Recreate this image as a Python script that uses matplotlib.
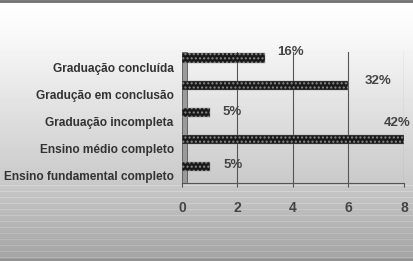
import numpy as np
import matplotlib.pyplot as plt
from matplotlib.patches import Rectangle

categories = [
    "Graduação concluída",
    "Gradução em conclusão",
    "Graduação incompleta",
    "Ensino médio completo",
    "Ensino fundamental completo",
]
counts = [3, 6, 1, 8, 1]
percent_labels = ["16%", "32%", "5%", "42%", "5%"]
x_ticks = [0, 2, 4, 6, 8]

plt.rcParams["font.family"] = ["Liberation Sans", "DejaVu Sans"]

fig = plt.figure(figsize=(4.14, 2.61), dpi=100)

# background gradient: white on top, grey towards the bottom
bg = fig.add_axes([0, 0, 1, 1], zorder=0)
rows = np.linspace(0, 1, 261)
shade = np.interp(rows, [0, 0.15, 0.7, 1.0], [1.0, 0.97, 0.79, 0.64])
for r in range(185, 261, 6):
    shade[r] = min(shade[r] + 0.05, 1)
bg.imshow(np.repeat(shade[:, None], 2, axis=1), cmap="gray", vmin=0, vmax=1,
          aspect="auto", extent=[0, 1, 0, 1])
bg.axhline(0.996, color="#707070", lw=2)
bg.axhline(0.004, color="#909090", lw=1.5)
bg.set_xlim(0, 1)
bg.set_ylim(0, 1)
bg.axis("off")

ax = fig.add_axes([0.4396, 0.299, 0.536, 0.517], zorder=1)
ax.patch.set_alpha(0)

y = np.arange(len(categories))
ax.barh(y, counts, height=0.34, color="#181818", edgecolor="#8a8a8a",
        hatch="....", linewidth=0.3, zorder=3)

# left wall of the pseudo 3D frame
ax.add_patch(Rectangle((0, 0), 0.022, 0.97, transform=ax.transAxes,
                       facecolor="#9a9a9a", edgecolor="#555555", lw=0.6, zorder=2))

for xv in x_ticks[1:]:
    ax.axvline(xv, ymax=0.97, color="#555555", lw=0.8, zorder=1)

ax.set_xlim(0, 8)
ax.set_ylim(4.6, -0.37)
ax.set_xticks(x_ticks)
ax.set_xticklabels([str(t) for t in x_ticks], fontsize=10, fontweight="bold",
                   color="#444444")
ax.tick_params(axis="x", length=3, color="#555555", pad=10)

ax.set_yticks(y + 0.34)
ax.set_yticklabels(categories, fontsize=8.6, fontweight="bold", color="#333333")
ax.tick_params(axis="y", length=0, pad=6)

for s in ["top", "right", "left"]:
    ax.spines[s].set_visible(False)
ax.spines["bottom"].set_color("#555555")
ax.spines["bottom"].set_linewidth(0.8)

label_dx = [0.9, 1.05, 0.8, -0.25, 0.85]
label_dy = [-0.22, -0.15, -0.02, -0.62, -0.07]
for i, (v, lab) in enumerate(zip(counts, percent_labels)):
    ax.text(v + label_dx[i], i + label_dy[i], lab, fontsize=9.5,
            fontweight="bold", color="#444444", ha="center", va="center",
            clip_on=False, zorder=4)

fig.savefig("out.png", dpi=100)
